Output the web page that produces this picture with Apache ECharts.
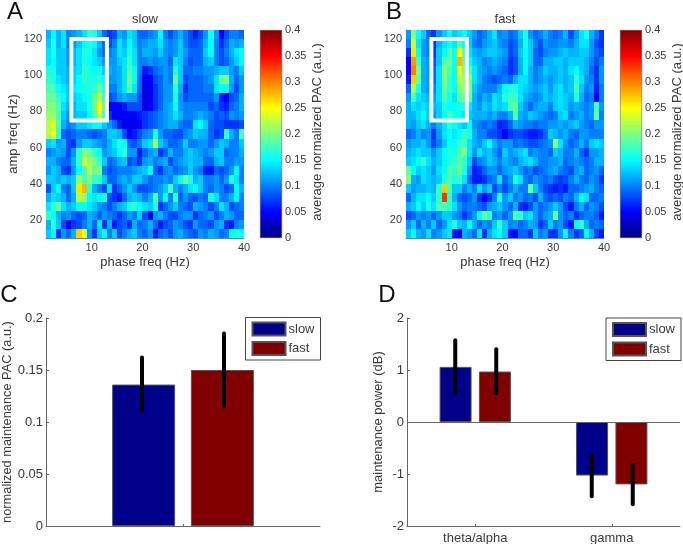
<!DOCTYPE html>
<html><head><meta charset="utf-8">
<script src="https://cdn.jsdelivr.net/npm/echarts@6/dist/echarts.min.js"></script>
<style>html,body{margin:0;padding:0;background:#fff}#c{width:683px;height:544px}</style>
</head><body><div id="c"></div>
<script>
const phaseEdges=[1,2,3,4,5,6,7,8,9,10,11,12,13,14,15,16,17,18,19,20,21,22,23,24,25,26,27,28,29,30,31,32,33,34,35,36,37,38,39];
const ampEdges=[120,115,110,105,100,95,90,85,80,75,70,65,60,55,50,45,40,35,30,25,20,15,10];
const phaseTicks=[10,20,30,40];
const ampTicks=[20,40,60,80,100,120];
const boxPoints=[[6,75],[6,120],[13,120],[13,75],[6,75]];
const jet=['#000080','#0000ff','#0080ff','#00ffff','#80ff80','#ffff00','#ff8000','#ff0000','#800000'];
const colorbarTop=[0.4];
// hundredths of normalized PAC, one row per amp bin, top row first
const slowPAC=[
[12,15,12,14,10,11,12,14,17,16,13,9,7,8,12,11,14,13,9,9,10,11,15,10,8,10,12,10,8,6,8,11,16,11,5,8,10,10,9],
[13,16,12,14,10,11,13,15,16,15,12,9,8,10,14,12,15,13,10,11,12,12,14,11,10,11,13,10,8,8,9,12,15,10,7,9,12,11,12],
[14,16,13,13,11,12,14,16,16,14,11,9,10,11,14,13,16,14,10,12,12,11,13,11,10,11,13,11,9,9,9,13,15,10,8,10,12,14,15],
[14,15,13,13,11,12,14,16,15,14,13,11,11,11,13,14,17,14,10,10,11,10,11,11,9,14,13,10,8,9,9,12,13,10,8,9,11,13,15],
[16,16,13,13,12,13,14,17,16,15,15,13,12,11,12,14,18,15,10,6,7,9,10,11,10,16,13,9,9,10,10,11,11,12,13,13,11,10,13],
[17,16,14,13,12,13,15,17,16,16,17,15,11,11,12,14,19,15,9,5,5,8,9,11,10,19,13,8,9,9,9,10,11,14,19,20,12,9,11],
[18,18,15,14,13,14,15,16,16,17,19,16,10,10,12,14,18,14,9,4,5,7,9,11,11,17,12,7,9,9,9,10,10,14,15,15,11,8,11],
[19,19,17,15,13,13,14,15,16,19,22,17,8,9,11,12,11,11,8,4,4,7,9,11,11,16,11,8,9,9,9,9,9,11,6,5,8,9,12],
[20,20,18,14,12,12,14,14,16,19,25,19,5,5,5,6,8,8,8,4,5,7,9,11,12,15,11,10,10,10,10,10,8,9,7,6,9,10,12],
[21,21,18,13,11,12,13,13,15,18,23,17,7,5,4,5,5,5,6,7,8,9,10,11,12,14,12,10,10,11,12,11,10,8,9,8,11,10,11],
[22,24,18,12,10,11,13,13,14,15,15,13,11,9,6,4,4,4,5,7,8,9,10,11,12,12,10,9,9,14,15,13,9,8,8,7,7,7,8],
[22,24,17,9,8,9,10,10,9,8,9,10,13,13,12,8,5,6,8,10,11,16,11,9,9,8,8,10,11,13,12,12,9,7,8,17,12,10,18],
[13,14,11,12,8,7,11,13,13,12,11,10,12,14,16,15,9,8,10,13,14,21,13,11,9,9,10,13,10,10,11,11,9,11,13,12,10,10,13],
[10,11,12,11,8,11,17,20,19,17,15,11,12,13,15,17,11,11,6,9,11,12,7,9,12,10,10,12,13,12,11,10,11,13,13,9,10,10,12],
[12,12,10,9,9,12,17,23,21,20,17,13,9,10,12,13,8,9,7,11,12,10,11,12,8,10,11,12,13,12,12,9,9,12,13,10,10,11,11],
[11,13,12,8,7,11,15,18,22,19,20,10,8,9,10,10,10,11,12,13,15,9,7,10,11,9,10,11,13,11,10,6,6,9,8,9,11,15,10],
[13,13,12,13,12,13,21,18,20,17,17,13,9,9,11,12,11,13,13,11,9,10,10,11,10,13,15,19,16,12,13,10,10,11,9,11,16,14,10],
[8,13,15,10,9,13,26,28,17,12,10,8,14,7,9,11,13,11,8,8,9,10,11,13,18,12,10,12,14,15,13,10,9,11,10,8,9,15,12],
[12,14,13,12,9,12,22,21,15,14,15,16,8,7,6,9,12,13,12,10,12,18,11,15,10,17,9,11,9,8,10,9,16,14,10,10,12,15,10],
[14,17,19,14,12,13,15,15,14,13,11,10,8,10,12,13,16,17,15,14,13,16,7,9,11,13,10,9,8,12,11,10,8,10,14,12,8,9,10],
[17,15,12,10,11,9,8,9,12,11,9,11,10,9,7,9,11,10,13,8,5,11,12,10,8,8,10,11,11,7,9,10,11,8,10,12,11,9,9],
[12,17,13,8,4,7,8,10,12,9,14,7,12,6,8,9,7,12,9,10,12,9,6,8,9,11,10,8,7,11,9,9,8,11,12,7,6,10,11],
[13,15,7,11,9,12,27,24,11,7,13,15,10,13,8,10,12,13,10,9,11,6,9,10,8,11,12,10,9,8,11,10,12,11,9,10,15,16,15]
];
const fastPAC=[
[11,20,15,13,9,7,11,13,15,13,14,15,13,11,9,10,12,14,10,11,9,10,13,16,11,9,10,12,10,9,10,12,8,11,14,16,12,10,7],
[10,23,14,11,10,7,12,14,15,14,18,15,13,10,9,11,12,13,11,10,8,9,12,16,13,10,8,11,10,10,11,11,10,12,14,14,11,8,7],
[7,26,15,11,10,7,13,15,18,15,25,18,14,12,11,12,13,13,12,11,8,9,13,15,13,9,8,10,11,11,12,13,12,12,13,13,11,9,8],
[5,29,18,12,11,8,13,18,19,15,28,19,15,13,12,10,11,12,11,10,7,8,12,15,13,9,9,12,12,13,13,12,13,13,13,12,10,8,10],
[5,30,20,12,11,9,14,20,18,15,24,20,18,14,12,11,10,11,10,9,7,8,12,15,12,10,11,13,12,12,13,12,14,15,13,12,9,7,11],
[6,27,19,12,11,9,14,20,17,15,22,21,20,14,12,10,9,8,9,10,9,12,14,14,12,10,11,12,11,12,13,12,13,17,14,11,10,7,11],
[9,22,16,12,11,10,14,19,17,15,20,21,20,13,11,10,10,10,12,15,16,16,14,13,12,11,12,13,11,13,14,12,13,18,13,10,11,6,10],
[11,18,14,13,12,11,14,18,16,14,18,19,19,12,10,12,11,14,13,16,18,17,14,12,11,10,11,13,12,13,14,13,12,16,12,9,10,5,10],
[12,14,13,14,13,12,13,16,15,15,16,16,14,12,11,13,12,14,13,14,18,19,13,11,9,11,12,12,10,13,14,13,11,12,11,10,11,18,11],
[12,12,14,15,13,11,13,15,18,16,15,14,13,12,12,12,11,12,10,10,12,18,12,11,13,12,11,10,9,10,13,14,10,11,12,10,11,19,10],
[12,11,13,14,12,10,12,14,17,15,14,13,15,11,10,9,10,9,6,7,9,12,11,10,10,9,10,10,11,11,12,11,12,13,11,10,9,11,11],
[9,10,12,10,11,7,11,14,15,14,15,17,16,12,10,10,8,8,7,5,7,8,8,7,6,6,7,9,13,12,11,12,10,9,11,11,10,10,10],
[11,12,12,13,11,8,10,13,15,15,17,18,14,12,11,13,15,12,10,11,11,9,10,9,8,8,9,10,11,20,14,11,9,10,12,10,13,14,13],
[12,13,14,13,13,11,13,15,16,16,18,20,14,11,14,12,13,11,9,13,11,12,13,14,10,11,10,10,9,13,12,10,10,12,9,7,11,11,12],
[13,14,15,17,14,12,13,15,16,17,18,17,13,8,10,11,13,12,10,12,11,10,12,13,14,12,10,10,11,11,12,9,10,11,10,9,10,12,12],
[19,15,13,14,13,11,14,15,18,17,19,16,11,6,7,9,11,11,9,11,12,13,11,9,10,8,9,10,11,12,10,9,8,11,12,9,10,11,9],
[20,12,11,14,13,12,13,16,18,16,17,14,9,6,6,7,9,10,14,9,11,16,14,10,9,11,10,9,10,8,7,8,10,12,10,9,11,10,7],
[13,11,12,12,13,12,17,27,18,13,13,10,12,10,14,11,13,8,10,8,10,12,10,10,19,13,10,8,7,6,7,6,9,9,10,11,12,10,9],
[9,12,14,14,15,13,17,33,17,12,9,8,9,11,7,5,7,10,16,11,13,10,11,9,10,8,12,9,8,9,8,10,9,12,15,14,9,9,10],
[12,13,15,13,16,14,18,18,17,14,11,9,10,10,9,8,11,12,13,11,9,12,7,6,8,11,9,10,11,13,11,8,6,10,12,9,11,10,8],
[8,9,11,10,11,9,11,13,13,11,10,7,9,11,15,19,17,10,11,9,11,18,17,13,14,11,9,11,12,19,11,9,10,7,9,10,10,9,6],
[11,13,9,12,10,13,9,11,14,16,13,12,15,12,9,11,10,13,17,13,10,11,9,10,12,11,7,9,13,10,11,8,6,15,17,12,9,10,9],
[13,15,12,11,14,10,11,13,14,6,5,12,11,9,14,7,12,14,15,13,6,5,9,9,7,13,10,11,7,7,11,15,10,7,9,15,12,8,6]
];
const pacGroups=['PAC'];
const slowPacMean=[0.136];
const fastPacMean=[0.150];
const slowPacErr=[[0,0.111,0.162]];
const fastPacErr=[[0,0.115,0.185]];
const powerBands=['theta/alpha','gamma'];
const slowPower=[1.06,-1.03];
const fastPower=[0.97,-1.20];
const slowPowerErr=[[0,0.55,1.57],[1,-1.43,-0.65]];
const fastPowerErr=[[0,0.55,1.40],[1,-1.58,-0.83]];

const FONT='"Liberation Sans",Arial,sans-serif', INK='#3a3a3a', AXIS='#666';
function cells(m){const out=[];m.forEach((row,r)=>row.forEach((v,c)=>out.push([phaseEdges[c],ampEdges[r],v/100])));return out;}
function renderCell(params,api){
  const a=api.coord([api.value(0),api.value(1)+5]), b=api.coord([api.value(0)+1,api.value(1)]);
  const x=Math.round(a[0]),y=Math.round(a[1]);
  return {type:'rect',shape:{x:x,y:y,width:Math.round(b[0])-x,height:Math.round(b[1])-y},style:{fill:api.visual('color')}};
}
function errorRender(shift){return function(params,api){
  const lo=api.coord([api.value(0),api.value(1)]), hi=api.coord([api.value(0),api.value(2)]);
  return {type:'line',shape:{x1:lo[0]+shift,y1:lo[1],x2:hi[0]+shift,y2:hi[1]},style:{stroke:'#000',lineWidth:4,lineCap:'round'},z2:10};
};}
const ttl=(t,x,y,s)=>({text:t,left:x,top:y,textAlign:'center',textStyle:{fontFamily:FONT,fontSize:s,fontWeight:'normal',color:s>20?'#111':INK}});
const txt={fontFamily:FONT,color:INK};
const grids=[
 {left:46,top:30,width:198,height:208},{left:260,top:30,width:22,height:208},
 {left:406,top:30,width:198,height:208},{left:620,top:30,width:22,height:208},
 {left:46,top:318,width:274,height:208},{left:407,top:318,width:273,height:208}
].map(g=>Object.assign(g,{outerBoundsMode:'none'}));
const mapX=(i)=>({gridIndex:i,type:'value',min:1,max:40,splitLine:{show:false},axisTick:{show:false},
  axisLine:{show:true,onZero:false,lineStyle:{color:'#4d8fa3'}},axisLabel:{...txt,fontSize:11,margin:4,customValues:phaseTicks},
  name:'phase freq (Hz)',nameLocation:'middle',nameGap:18,nameTextStyle:{...txt,fontSize:13}});
const mapY=(i,nm)=>({gridIndex:i,type:'value',min:10,max:125,splitLine:{show:false},axisTick:{show:false},
  axisLine:{show:true,onZero:false,lineStyle:{color:'#4d8fa3'}},axisLabel:{...txt,fontSize:11,margin:4,customValues:ampTicks},
  name:nm,nameLocation:'middle',nameGap:26,nameTextStyle:{...txt,fontSize:13}});
const cbX=(i)=>({gridIndex:i,type:'category',data:['c'],show:false});
const cbY=(i)=>({gridIndex:i,type:'value',min:0,max:0.4,interval:0.05,position:'right',splitLine:{show:false},
  axisLine:{show:false},axisTick:{show:false},axisLabel:{...txt,fontSize:11,margin:3},
  name:'average normalized PAC (a.u.)',nameLocation:'middle',nameGap:29,nameRotate:90,nameTextStyle:{...txt,fontSize:13,padding:[0,0,0,4]}});
const barX=(i,d,lab)=>({gridIndex:i,type:'category',data:d,axisLine:{onZero:false,lineStyle:{color:AXIS}},
  axisTick:{show:true,inside:true,length:2,alignWithLabel:true,lineStyle:{color:AXIS}},axisLabel:{show:lab,...txt,fontSize:13,margin:6}});
const barY=(i,min,max,intv,nm,gap,fs)=>({gridIndex:i,type:'value',min:min,max:max,interval:intv,splitLine:{show:false},
  axisLine:{show:true,onZero:false,lineStyle:{color:AXIS}},axisTick:{show:true,inside:true,length:3,lineStyle:{color:AXIS}},
  axisLabel:{...txt,fontSize:13,margin:3},name:nm,nameLocation:'middle',nameGap:gap,nameTextStyle:{...txt,fontSize:fs}});
const bar=(name,color,xi,data,w,gapStr,extra)=>Object.assign({name:name,type:'bar',xAxisIndex:xi,yAxisIndex:xi,data:data,barWidth:w,barGap:gapStr,
  itemStyle:{color:color,borderColor:'#555',borderWidth:1}},extra||{});
const err=(xi,data,shift)=>({type:'custom',xAxisIndex:xi,yAxisIndex:xi,data:data,encode:{x:0,y:[1,2]},renderItem:errorRender(shift),z:5,silent:true,clip:false});
const cbSeries=(xi)=>({type:'bar',xAxisIndex:xi,yAxisIndex:xi,data:colorbarTop,barWidth:'100%',silent:true,
  itemStyle:{color:{type:'linear',x:0,y:1,x2:0,y2:0,colorStops:jet.map((c,i)=>({offset:i/(jet.length-1),color:c}))},borderColor:'#555',borderWidth:0.5}});
const mapSeries=(xi,m)=>({type:'custom',xAxisIndex:xi,yAxisIndex:xi,data:cells(m),encode:{x:0,y:1},renderItem:renderCell,silent:true});
const boxSeries=(xi)=>({type:'line',xAxisIndex:xi,yAxisIndex:xi,data:boxPoints,symbol:'none',silent:true,z:6,lineStyle:{color:'#fff',width:4,join:'miter',cap:'square'}});
const leg=(l,t)=>({left:l,top:t,orient:'vertical',data:['slow','fast'],icon:'rect',itemWidth:33,itemHeight:13,itemGap:4.5,padding:[4,6,4,6],
  backgroundColor:'#fff',borderColor:'#444',borderWidth:1,borderRadius:0,selectedMode:false,textStyle:{...txt,fontSize:13,padding:[0,0,0,-2]}});

const chart=echarts.init(document.getElementById('c'),null,{renderer:'canvas'});
chart.setOption({
 animation:false,backgroundColor:'#fff',
 title:[ttl('slow',140,8,13),ttl('fast',500,8,13),ttl('A',10,-5,24),ttl('B',389,-5,24),ttl('C',4,278,24),ttl('D',382,278,24)],
 legend:[leg(245.5,317.5),leg(606,318)],
 visualMap:{show:false,seriesIndex:[0,3],dimension:2,min:0,max:0.4,inRange:{color:jet}},
 grid:grids,
 xAxis:[mapX(0),cbX(1),mapX(2),cbX(3),barX(4,pacGroups,false),barX(5,powerBands,true)],
 yAxis:[mapY(0,'amp freq (Hz)'),cbY(1),mapY(2,''),cbY(3),
   barY(4,0,0.2,0.05,'normalized maintenance PAC (a.u.)',30,12.8),barY(5,-2,2,1,'maintenance power (dB)',22,13)],
 series:[
  mapSeries(0,slowPAC),boxSeries(0),cbSeries(1),
  mapSeries(2,fastPAC),boxSeries(2),cbSeries(3),
  bar('slow','#00008b',4,slowPacMean,63,'25%'),bar('fast','#800000',4,fastPacMean,63,'25%'),
  err(4,slowPacErr,-41),err(4,fastPacErr,41),
  bar('slow','#00008b',5,slowPower,32,'23%',{markLine:{silent:true,symbol:'none',label:{show:false},lineStyle:{color:AXIS,type:'solid',width:1},data:[{yAxis:0}]}}),
  bar('fast','#800000',5,fastPower,32,'23%'),
  err(5,slowPowerErr,-20),err(5,fastPowerErr,21)
 ]
});
</script></body></html>
